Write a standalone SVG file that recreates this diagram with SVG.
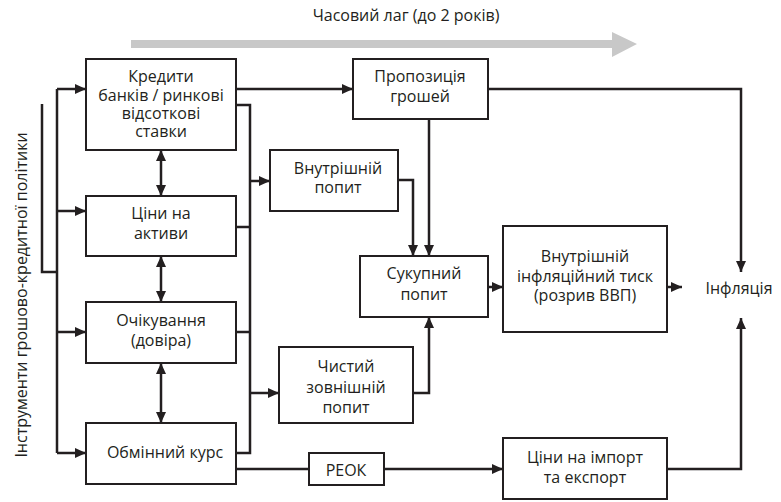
<svg xmlns="http://www.w3.org/2000/svg" width="781" height="502" viewBox="0 0 781 502">
<style>
.box{fill:#fff;stroke:#231f20;stroke-width:2}
.c{fill:none;stroke:#231f20;stroke-width:2.5}
.t{font-family:"Open Sans","Noto Sans",sans-serif;font-size:16px;fill:#231f20;text-anchor:middle}
</style>
<defs>
<marker id="ah" markerUnits="userSpaceOnUse" markerWidth="12" markerHeight="12" viewBox="0 0 12 12" refX="11" refY="6" orient="auto-start-reverse">
<path d="M0,1 L11,6 L0,11 z" fill="#231f20"/>
</marker>
</defs>
<rect width="781" height="502" fill="#fff"/>
<g id="timelag">
<text class="t" x="406" y="21">Часовий лаг (до 2 років)</text>
<path d="M131,40 H612 V32 L637,44 L612,57 V48 H131 z" fill="#c8c8c8"/>
</g>
<g id="instruments">
<text class="t" transform="translate(27,295) rotate(-90)">Інструменти грошово-кредитної політики</text>
<path d="M42,104 V272 H57" class="c" stroke-width="2"/>
</g>
<g id="connectors">
<path class="c" d="M57,89 V453"/>
<path class="c" d="M57,89 H86" marker-end="url(#ah)"/>
<path class="c" d="M57,211 H86" marker-end="url(#ah)"/>
<path class="c" d="M57,332 H86" marker-end="url(#ah)"/>
<path class="c" d="M57,453 H86" marker-end="url(#ah)"/>
<path class="c" d="M161,150 V196" marker-start="url(#ah)" marker-end="url(#ah)"/>
<path class="c" d="M161,256 V302" marker-start="url(#ah)" marker-end="url(#ah)"/>
<path class="c" d="M161,363 V423" marker-start="url(#ah)" marker-end="url(#ah)"/>
<path class="c" d="M236,89 H353" marker-end="url(#ah)"/>
<path class="c" stroke-width="2" d="M236,105 H250 V453 H236"/>
<path class="c" stroke-width="2" d="M236,227 H250"/>
<path class="c" stroke-width="2" d="M236,332 H250"/>
<path class="c" d="M250,181 H270" marker-end="url(#ah)"/>
<path class="c" d="M250,393 H279" marker-end="url(#ah)"/>
<path class="c" stroke-width="2" d="M488,89 H741 V272" marker-end="url(#ah)"/>
<path class="c" d="M429,119 V256" marker-end="url(#ah)"/>
<path class="c" d="M398,180 H413 V256" marker-end="url(#ah)"/>
<path class="c" d="M413,393 H429 V317" marker-end="url(#ah)"/>
<path class="c" d="M488,287 H503" marker-end="url(#ah)"/>
<path class="c" d="M667,287 H682" marker-end="url(#ah)"/>
<path class="c" stroke-width="2" d="M667,469 H741 V318" marker-end="url(#ah)"/>
<path class="c" d="M236,469 H309"/>
<path class="c" d="M384,469 H503" marker-end="url(#ah)"/>
</g>
<g id="credits">
<rect class="box" x="86" y="59" width="150" height="91"/>
<text class="t" x="161" y="82">Кредити</text>
<text class="t" x="161" y="101">банків / ринкові</text>
<text class="t" x="161" y="119">відсоткові</text>
<text class="t" x="161" y="137">ставки</text>
</g>
<g id="assets">
<rect class="box" x="86" y="196" width="150" height="60"/>
<text class="t" x="161" y="219">Ціни на</text>
<text class="t" x="161" y="239">активи</text>
</g>
<g id="expectations">
<rect class="box" x="86" y="302" width="150" height="61"/>
<text class="t" x="161" y="326">Очікування</text>
<text class="t" x="161" y="346">(довіра)</text>
</g>
<g id="exchange">
<rect class="box" x="86" y="423" width="150" height="61"/>
<text class="t" x="165" y="458">Обмінний курс</text>
</g>
<g id="money">
<rect class="box" x="353" y="59" width="135" height="60"/>
<text class="t" x="420" y="82">Пропозиція</text>
<text class="t" x="420" y="102">грошей</text>
</g>
<g id="domestic">
<rect class="box" x="270" y="150" width="128" height="61"/>
<text class="t" x="338" y="174">Внутрішній</text>
<text class="t" x="338" y="193">попит</text>
</g>
<g id="net">
<rect class="box" x="279" y="347" width="134" height="76"/>
<text class="t" x="346" y="372">Чистий</text>
<text class="t" x="346" y="393">зовнішній</text>
<text class="t" x="346" y="413">попит</text>
</g>
<g id="reok">
<rect class="box" x="309" y="453" width="75" height="32"/>
<text class="t" x="346" y="476">РЕОК</text>
</g>
<g id="aggregate">
<rect class="box" x="360" y="256" width="128" height="61"/>
<text class="t" x="424" y="279">Сукупний</text>
<text class="t" x="424" y="300">попит</text>
</g>
<g id="pressure">
<rect class="box" x="503" y="226" width="164" height="106"/>
<text class="t" x="585" y="262">Внутрішній</text>
<text class="t" x="585" y="282">інфляційний тиск</text>
<text class="t" x="585" y="301">(розрив ВВП)</text>
</g>
<g id="importprices">
<rect class="box" x="503" y="438" width="164" height="61"/>
<text class="t" x="585" y="463">Ціни на імпорт</text>
<text class="t" x="585" y="483">та експорт</text>
</g>
<g id="inflation">
<text class="t" x="739" y="294">Інфляція</text>
</g>
</svg>
